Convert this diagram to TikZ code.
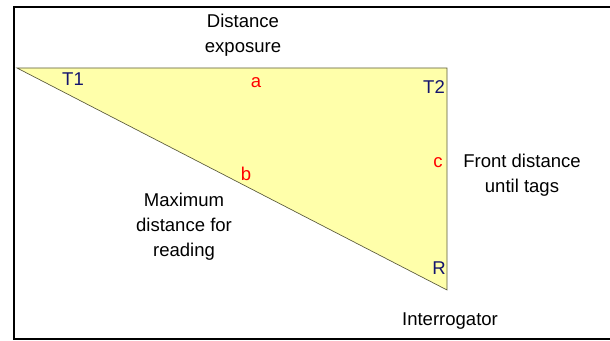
\documentclass[tikz,border=0pt]{standalone}
\usepackage{fontspec}
\setmainfont{Liberation Sans}
\usepackage{tikz}

\definecolor{paleyellow}{RGB}{255,255,170}
\definecolor{edgeolive}{RGB}{90,90,60}
\definecolor{labelnavy}{RGB}{20,20,110}

\begin{document}
\begin{tikzpicture}[
        x=0.75pt, y=-0.75pt,
        txt/.style={align=center, inner sep=0pt, font=\fontsize{13.9}{18.7}\selectfont},
        corner/.style={txt, text=labelnavy},
        side/.style={txt, text=red}
    ]
        \useasboundingbox (0,0) rectangle (610,341);
        \draw[line width=1.3pt] (14,7) rectangle (625,339);

        \coordinate (t1) at (17,68);
        \coordinate (t2) at (447,68);
        \coordinate (r) at (447,290);
        \draw[edgeolive, fill=paleyellow, line width=0.5pt] (t1) -- (t2) -- (r) -- cycle;

        \node[corner] (lt1) at (73,79) {T1};
        \node[corner] (lt2) at (434,87) {T2};
        \node[corner] (lr) at (439,268) {R};

        \node[side] (la) at (256,83) {a};
        \node[side] (lb) at (246,174) {b};
        \node[side] (lc) at (438,163) {c};

        \node[txt] (exp) at (243,35) {Distance\\exposure};
        \node[txt] (front) at (522,175) {Front distance\\until tags};
        \node[txt] (maxd) at (184,227) {Maximum\\distance for\\reading};
        \node[txt] (inter) at (450,321) {Interrogator};
    \end{tikzpicture}
\end{document}
